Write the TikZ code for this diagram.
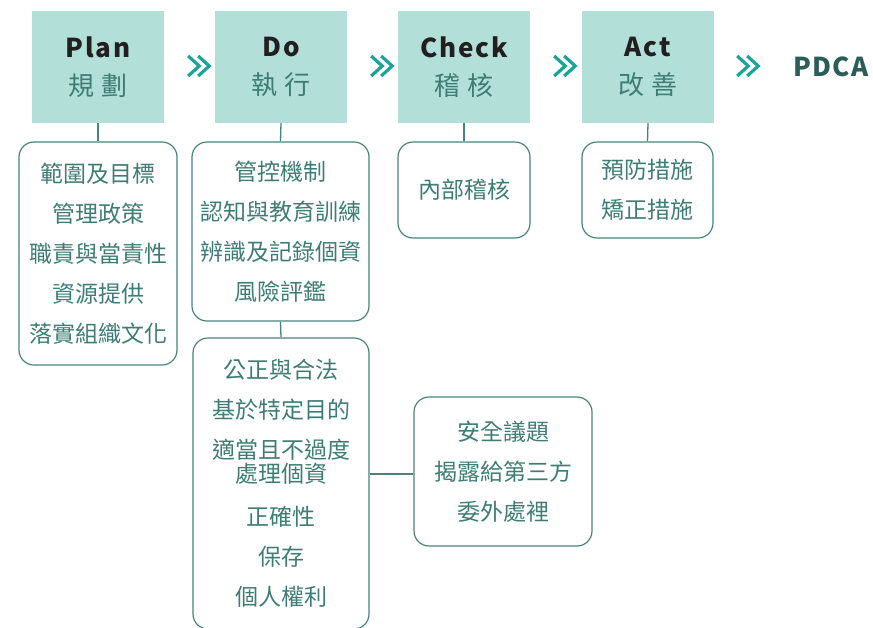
\documentclass[tikz,border=0pt]{standalone}
\usepackage{fontspec}
\setmainfont{Noto Sans CJK TC}
\usetikzlibrary{calc}
\definecolor{hdfill}{HTML}{B3DFD9}
\definecolor{teal1}{HTML}{3E7D75}
\definecolor{bordc}{HTML}{4A837D}
\definecolor{chevc}{HTML}{1AA398}
\definecolor{pdcac}{HTML}{2B5E58}
\definecolor{blackc}{HTML}{231F20}
\newcommand{\hdlatin}[1]{{\fontsize{26pt}{30pt}\selectfont\bfseries\addfontfeature{LetterSpace=7}\color{blackc}#1}}
\newcommand{\hdcjk}[2]{{\fontsize{26pt}{30pt}\selectfont\color{teal1}#1\hspace{8pt}#2}}
\begin{document}
\begin{tikzpicture}[x=1pt,y=-1pt,
  header/.style={rectangle,fill=hdfill,minimum width=132pt,minimum height=112pt,inner sep=0pt,align=center},
  itembox/.style={rectangle,draw=bordc,line width=1.2pt,rounded corners=15pt,inner sep=0pt,align=center,
    text=teal1,font=\fontsize{23pt}{40pt}\selectfont},
  link/.style={draw=bordc,line width=1.3pt},
  chevline/.style={draw=chevc,line width=3.2pt,line cap=butt,line join=miter},
  chevron/.pic={\draw[chevline] (-11,-10) -- (0,0) -- (-11,10); \draw[chevline] (-1,-10) -- (10,0) -- (-1,10);}
]
\useasboundingbox (0,0) rectangle (873,627);

% headers
\node[header] (hplan) at (98,67) {\hdlatin{Plan}\\[15pt]\hdcjk{規}{劃}};
\node[header] (hdo) at (281,67) {\hdlatin{Do}\\[15pt]\hdcjk{執}{行}};
\node[header] (hcheck) at (464,67) {\hdlatin{Check}\\[15pt]\hdcjk{稽}{核}};
\node[header] (hact) at (648,67) {\hdlatin{Act}\\[15pt]\hdcjk{改}{善}};
\node[text=pdcac,font=\fontsize{26pt}{30pt}\selectfont\bfseries\addfontfeature{LetterSpace=6}] (pdca) at (831,67) {PDCA};

% chevrons
\pic at ($(hplan.east)+(35,-1)$) {chevron};
\pic at ($(hdo.east)+(35,-1)$) {chevron};
\pic at ($(hcheck.east)+(35,-1)$) {chevron};
\pic at ($(hact.east)+(34,-1)$) {chevron};

% boxes
\node[itembox,minimum width=158pt,minimum height=223pt] (bplan) at (98,253.5)
  {範圍及目標\\管理政策\\職責與當責性\\資源提供\\落實組織文化};
\node[itembox,minimum width=177pt,minimum height=179pt] (bdo1) at (280.5,231.5)
  {管控機制\\認知與教育訓練\\辨識及記錄個資\\風險評鑑};
\node[itembox,minimum width=176pt,minimum height=291pt] (bdo2) at (281,483.5)
  {公正與合法\\基於特定目的\\適當且不過度\\[-16pt]處理個資\\[3pt]正確性\\保存\\個人權利};
\node[itembox,minimum width=178pt,minimum height=149pt] (bright) at (503,471.5)
  {安全議題\\揭露給第三方\\委外處裡};
\node[itembox,minimum width=132pt,minimum height=96pt] (bcheck) at (464,190)
  {內部稽核};
\node[itembox,minimum width=131pt,minimum height=96pt] (bact) at (647.5,190)
  {預防措施\\矯正措施};

% connectors
\draw[link] (hplan.south) -- (bplan.north);
\draw[link] (hdo.south) -- (bdo1.north);
\draw[link] (hcheck.south) -- (bcheck.north);
\draw[link] (hact.south) -- (bact.north);
\draw[link] (bdo1.south) -- (bdo2.north);
\draw[link] ($(bright.west -| bdo2.east)+(0,2.5)$) -- ($(bright.west)+(0,2.5)$);
\end{tikzpicture}
\end{document}
